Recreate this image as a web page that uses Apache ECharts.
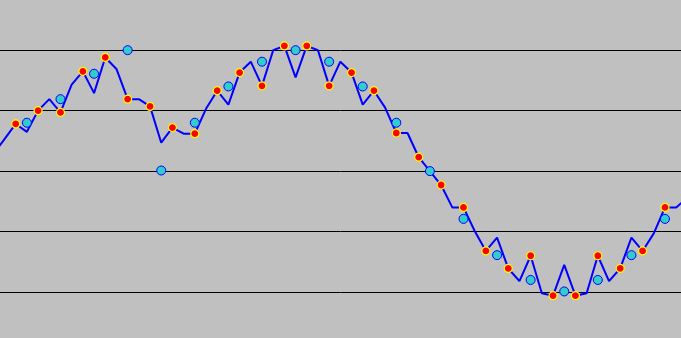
<!DOCTYPE html>
<html>
<head>
<meta charset="utf-8">
<script src="https://cdn.jsdelivr.net/npm/echarts@6/dist/echarts.min.js"></script>
<style>
html,body{margin:0;padding:0;background:#c0c0c0;}
#chart{width:681px;height:338px;}
</style>
</head>
<body>
<div id="chart"></div>
<script>
// sample positions (index along x)
var lineX = [-1,0,1,2,3,4,5,6,7,8,9,10,11,12,13,14,15,16,17,18,19,20,21,22,23,24,25,26,27,28,29,30,31,32,33,34,35,36,37,38,39,40,41,42,43,44,45,46,47,48,49,50,51,52,53,54,55,56,57,58,59,60,61];
var lineValues = [0.28,0.53,0.78,0.65,1.00,1.19,0.97,1.43,1.65,1.29,1.88,1.69,1.19,1.19,1.07,0.47,0.72,0.62,0.62,1.03,1.33,1.10,1.63,1.81,1.41,2.00,2.07,1.55,2.07,2.00,1.41,1.81,1.63,1.10,1.33,1.05,0.63,0.63,0.23,0.00,-0.23,-0.60,-0.60,-0.99,-1.32,-1.10,-1.61,-1.82,-1.40,-2.02,-2.06,-1.55,-2.06,-2.02,-1.40,-1.82,-1.61,-1.10,-1.32,-1.03,-0.60,-0.60,-0.44];

var redX = [1,3,5,7,9,11,13,15,17,19,21,23,25,27,29,31,33,35,37,39,41,43,45,47,49,51,53,55,57,59];
var redValues = [0.78,1.00,0.97,1.65,1.88,1.19,1.07,0.72,0.62,1.33,1.63,1.41,2.07,2.07,1.41,1.63,1.33,0.63,0.23,-0.23,-0.60,-1.32,-1.61,-1.40,-2.06,-2.06,-1.40,-1.61,-1.32,-0.60];

var cyanX = [2,5,8,11,14,17,20,23,26,29,32,35,38,41,44,47,50,53,56,59];
var cyanValues = [0.80,1.19,1.61,2.00,0.01,0.80,1.40,1.81,2.00,1.81,1.40,0.80,0.00,-0.79,-1.39,-1.80,-1.99,-1.80,-1.39,-0.79];

function pairs(xs, ys){ return xs.map(function(x,i){ return [x, ys[i]]; }); }

var chart = echarts.init(document.getElementById('chart'), null, {renderer:'canvas'});
chart.setOption({
  animation: false,
  backgroundColor: '#c0c0c0',
  grid: {left: 0, right: 0, top: 0, bottom: 0, containLabel: false, outerBoundsMode: 'none'},
  xAxis: {
    type: 'value', min: -0.402, max: 60.43, show: false,
    axisLine: {show: false}, axisTick: {show: false}, axisLabel: {show: false},
    splitLine: {show: false}
  },
  yAxis: {
    type: 'value', min: -2.76, max: 2.83, splitNumber: 5,
    axisLine: {show: false}, axisTick: {show: false}, axisLabel: {show: false},
    splitLine: {show: true, showMinLine: false, showMaxLine: false, lineStyle: {color: '#000000', width: 1}}
  },
  series: [
    {
      type: 'line', data: pairs(lineX, lineValues), showSymbol: false,
      lineStyle: {color: '#0000ff', width: 2}, z: 2
    },
    {
      type: 'scatter', data: pairs(cyanX, cyanValues), symbol: 'circle', symbolSize: 9,
      itemStyle: {color: '#33cccc', borderColor: '#0000ff', borderWidth: 1, opacity: 1}, z: 3
    },
    {
      type: 'scatter', data: pairs(redX, redValues), symbol: 'circle', symbolSize: 8,
      itemStyle: {color: '#ff0000', borderColor: '#ffff00', borderWidth: 1.2, opacity: 1}, z: 4
    }
  ]
});
</script>
</body>
</html>
